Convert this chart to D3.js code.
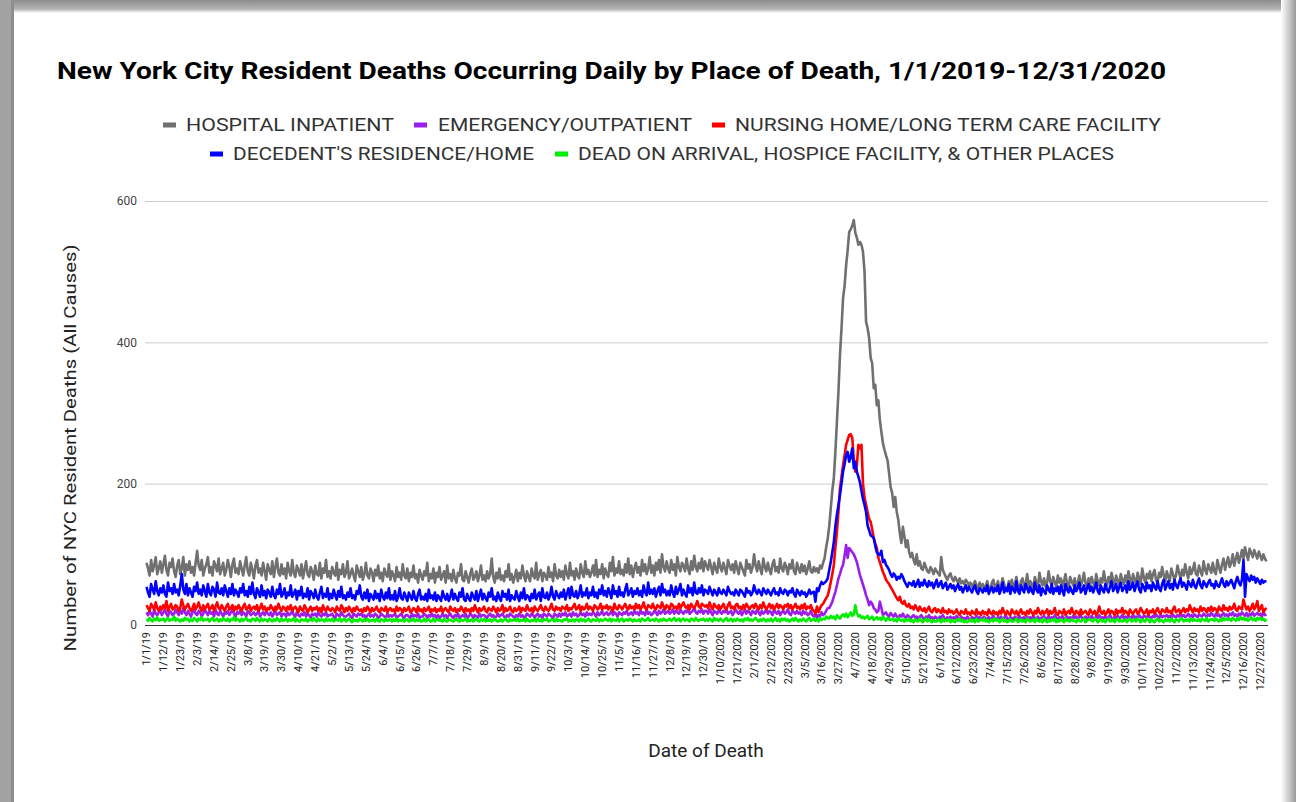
<!DOCTYPE html>
<html><head><meta charset="utf-8">
<script src="https://cdn.jsdelivr.net/npm/d3@7"></script>
<style>
html,body{margin:0;padding:0;background:#fff;}
svg{display:block;}
</style></head>
<body>
<svg id="chart" width="1296" height="802"></svg>
<script>
// ---------------- DATA ----------------
const seriesNames = ["HOSPITAL INPATIENT","EMERGENCY/OUTPATIENT","NURSING HOME/LONG TERM CARE FACILITY","DECEDENT'S RESIDENCE/HOME","DEAD ON ARRIVAL, HOSPICE FACILITY, & OTHER PLACES"];
const seriesColors = ["#707070","#9b1fe8","#ff0000","#0000ff","#00ee00"];
const yTicks = [0,200,400,600];
const tickLabels = ["1/1/19","1/12/19","1/23/19","2/3/19","2/14/19","2/25/19","3/8/19","3/19/19","3/30/19","4/10/19","4/21/19","5/2/19","5/13/19","5/24/19","6/4/19","6/15/19","6/26/19","7/7/19","7/18/19","7/29/19","8/9/19","8/20/19","8/31/19","9/11/19","9/22/19","10/3/19","10/14/19","10/25/19","11/5/19","11/16/19","11/27/19","12/8/19","12/19/19","12/30/19",
"1/10/2020","1/21/2020","2/1/2020","2/12/2020","2/23/2020","3/5/2020","3/16/2020","3/27/2020","4/7/2020","4/18/2020","4/29/2020","5/10/2020","5/21/2020","6/1/2020","6/12/2020","6/23/2020","7/4/2020","7/15/2020","7/26/2020","8/6/2020","8/17/2020","8/28/2020","9/8/2020","9/19/2020","9/30/2020","10/11/2020","10/22/2020","11/2/2020","11/13/2020","11/24/2020","12/5/2020","12/16/2020","12/27/2020"];
const tickStep = 11;

const hospital2019 = [
88,80,70,92,76,84,96,72,80,90, 74,86,98,78,70,88,82,94,76,68, 84,92,72,80,96,70,86,78,90,74,
82,70,88,105,84,78,92,70,80,86, 96,74,82,70,90,84,76,94,72,80, 88,70,78,92,82,68,86,94,74,80,
72,90,80,70,84,96,76,70,88,78, 66,84,92,74,80,70,88,76,64,86, 78,72,90,68,82,94,74,70,86,72,
80,66,88,76,70,92,74,68,84,78, 70,86,66,78,90,72,68,82,76,64, 84,72,70,88,66,80,74,92,68,76,
66,82,74,70,88,64,78,72,86,68, 74,90,66,72,80,70,62,84,76,68, 82,64,72,88,70,66,80,74,62,78,
70,84,66,74,62,80,72,68,86,64, 76,70,62,82,68,74,64,86,70,66, 80,62,74,68,84,66,72,60,78,70,
64,76,70,88,62,72,66,80,60,74, 68,82,64,70,76,60,84,66,72,62, 78,66,60,74,70,86,64,62,76,68,
60,72,80,64,68,76,62,70,84,64, 70,62,76,66,72,94,68,60,74,66, 80,64,70,62,76,68,86,64,72,60,
68,78,62,74,66,84,70,62,76,68, 62,80,70,66,88,64,72,78,62,74, 70,64,82,68,74,62,86,70,66,78,
68,76,64,84,72,66,88,70,76,64, 80,70,66,86,74,68,90,72,78,68, 74,84,70,92,68,78,72,86,66,80,
72,68,88,76,96,70,80,74,90,72, 78,70,86,74,94,72,84,68,80,88, 74,82,70,92,76,86,72,80,96,74,
84,70,88,78,92,74,100,82,76,90, 80,74,92,78,86,70,96,82,76,88, 84,76,94,80,72,90,78,98,82,76,
88,80,94,76,90];
const hospital2020 = [
84,78,92,82,72,88,80,74,94,82, 76,88,80,72,92,84,78,86,74,90, 80,72,88,82,76,70,92,80,86,74,
82,100,84,76,90,80,72,94,82,76, 88,78,72,86,92,76,82,74,94,80, 76,88,82,72,86,80,92,76,72,88,
80,74,86,76,84,72,80,90,76,74, 82,76,80,74,84,80,88,95,110,122, 140,165,190,208,245,287,330,382,420,462,
480,509,530,556,560,565,573,555,548,538, 542,538,528,500,429,420,406,378,370,335, 340,311,318,290,273,257,248,240,233,215,
195,187,167,181,160,149,130,116,139,125, 110,120,104,96,102,92,86,100,84,90, 80,78,88,82,76,74,82,78,72,80,
76,73,70,96,78,73,68,64,70,73, 66,62,68,64,60,66,59,62,58,64, 61,56,60,54,58,62,56,52,60,54,
58,50,56,62,52,48,60,64,52,56, 62,50,56,66,58,52,48,62,56,64, 52,58,68,54,50,62,66,54,58,72,
54,62,58,52,68,60,54,74,62,56, 66,54,60,76,62,56,68,60,54,70, 60,66,54,62,72,58,52,68,62,56,
66,54,60,70,56,62,74,60,54,66, 56,68,60,54,72,62,56,66,60,76, 62,56,68,60,74,64,56,70,62,58,
72,64,58,70,60,76,66,58,72,64, 60,74,66,58,80,68,60,72,66,76, 62,72,78,64,60,74,68,82,70,62,
76,68,62,80,72,64,70,84,74,66, 78,70,86,74,66,82,72,78,88,72, 70,84,76,70,90,78,72,86,80,74,
88,76,72,92,82,74,86,94,78,88, 96,82,88,100,84,94,102,88,96,106, 94,110,100,92,108,102,96,106,100,94,
104,98,92,100,94,90];

const emergency2019 = [
18,14,20,16,12,22,16,14,18,20, 14,18,22,16,12,20,18,14,16,22, 18,14,20,16,24,18,14,20,16,12,
18,22,16,14,20,18,12,16,22,18, 14,20,16,18,12,22,16,14,20,16, 12,18,16,20,14,18,22,16,12,18,
16,20,14,18,16,12,20,18,14,16, 18,14,16,20,12,16,18,14,20,16, 14,18,12,16,20,14,16,18,12,16,
16,12,18,14,16,20,14,12,18,14, 12,16,14,18,12,16,14,10,16,14, 16,12,18,14,12,16,14,18,12,14,
14,16,12,10,16,14,12,18,14,12, 12,14,16,12,10,16,14,12,16,14, 16,12,14,10,14,16,12,14,12,16,
14,10,12,16,14,12,10,16,12,14, 12,14,16,10,12,14,16,12,10,14, 14,12,10,16,12,14,12,16,10,12,
12,16,14,10,14,12,16,12,14,10, 14,10,12,16,12,14,10,14,16,12, 10,14,12,16,10,12,14,12,16,10,
12,16,14,10,14,12,10,16,12,14, 14,12,10,14,16,12,14,10,12,16, 12,14,16,12,10,14,12,16,14,12,
10,14,12,16,12,14,10,12,16,14, 12,16,14,10,14,16,12,14,10,16, 14,12,16,14,12,10,16,14,12,16,
12,16,14,18,12,14,16,12,18,14, 16,12,14,18,14,16,12,18,14,16, 14,18,16,12,18,14,16,20,14,16,
18,14,16,20,14,18,16,12,18,16, 14,18,16,20,14,16,18,14,20,16, 18,14,20,16,18,14,22,16,18,14,
16,20,18,14,20,16,18,22,16,18, 20,16,18,22,16,20,18,16,22,18, 16,20,18,22,16,18,20,24,18,16,
20,18,22,16,20];
const emergency2020 = [
20,16,22,18,14,20,18,16,22,18, 16,20,18,22,16,18,20,14,18,22, 18,16,20,14,18,22,16,20,18,14,
20,18,16,22,18,14,20,16,18,22, 16,20,18,14,22,18,16,20,14,18, 20,16,18,22,16,14,20,18,16,20,
16,18,14,20,16,18,14,16,20,14, 12,16,10,14,12,18,14,16,20,24, 24,28,33,40,47,56,66,72,80,85,
98,113,95,109,106,103,100,95,89,80, 71,64,57,50,42,36,28,33,30,24, 22,18,20,33,24,14,16,18,14,12,
17,14,12,16,12,10,14,12,16,12, 10,14,12,9,12,14,10,12,8,12, 14,10,8,12,10,14,9,11,8,12,
10,8,12,9,14,10,8,11,9,12, 8,11,9,13,10,7,12,9,10,8, 12,9,7,11,10,8,13,9,11,8,
10,12,8,9,11,7,10,13,9,8, 11,9,12,8,10,14,9,7,11,10, 8,12,10,9,13,8,10,11,7,12,
9,11,8,13,10,9,12,8,10,11, 13,8,10,12,9,11,8,14,10,9, 11,9,13,8,10,12,9,11,8,13,
10,12,9,11,14,8,10,12,9,11, 8,13,10,9,12,10,14,9,11,10, 12,9,11,14,10,8,12,10,13,9,
11,14,9,12,10,13,11,9,15,10, 12,10,14,11,9,13,12,10,14,11, 10,13,11,15,12,10,14,11,13,12,
14,11,13,10,15,12,11,14,12,16, 12,14,11,13,16,12,14,11,15,13, 11,15,13,12,16,14,11,15,13,17,
14,12,16,13,15,11,14,17,13,15, 12,16,14,18,13,15,12,16,14,18, 15,13,17,12,16,14,18,13,15,17,
14,16,12,18,14,15];

const nursing2019 = [
28,24,20,30,26,22,32,24,20,26, 22,28,24,34,20,26,30,22,24,28, 26,20,24,36,28,22,26,30,24,20,
24,30,22,26,32,24,20,28,22,26, 30,22,24,28,20,26,32,24,22,28, 24,20,26,30,22,24,28,20,26,22,
28,24,20,26,30,22,24,28,20,24, 26,22,28,20,24,30,22,26,20,24, 22,28,24,20,26,22,30,24,20,26,
24,20,26,22,28,20,24,26,22,18, 26,22,20,28,24,18,22,26,20,24, 22,26,20,24,18,28,22,20,26,22,
20,24,22,18,26,22,20,28,24,18, 24,20,26,22,18,24,20,26,22,20, 22,18,24,20,26,22,18,24,20,22,
26,20,18,24,22,20,26,18,22,24, 20,22,18,26,20,24,22,18,24,20, 22,26,18,20,24,22,18,26,20,22,
18,24,20,22,26,18,22,20,24,18, 22,20,26,18,22,24,20,18,26,22, 20,24,18,22,20,26,22,18,24,20,
22,18,24,20,28,22,18,24,20,22, 26,20,18,24,22,20,26,22,18,24, 20,22,28,18,24,20,22,26,20,18,
24,20,22,26,18,24,22,20,28,22, 20,24,18,26,22,20,24,28,22,20, 26,22,20,24,30,22,20,26,22,24,
20,26,24,22,28,20,24,22,26,30, 22,24,28,20,26,22,24,30,22,26, 24,20,28,26,22,24,30,22,26,24,
28,22,26,24,20,30,24,22,28,26, 22,26,30,24,22,28,24,26,22,30, 24,28,22,26,32,24,22,28,26,24,
30,24,22,28,26,24,32,26,22,28, 26,22,30,28,24,26,22,30,24,28, 32,26,24,28,22,30,26,24,28,34,
26,24,30,28,26];
const nursing2020 = [
28,24,32,26,22,30,26,24,28,22, 26,30,24,22,28,32,24,26,22,28, 30,24,26,22,28,24,30,26,22,26,
28,24,30,26,22,28,24,32,26,22, 26,30,24,28,22,26,30,24,28,26, 22,28,26,30,24,28,22,26,30,24,
26,22,28,24,30,22,26,24,28,22, 20,16,26,18,24,28,30,34,38,42, 50,61,72,85,110,132,160,193,210,226,
240,255,262,269,270,265,236,217,226,255, 250,255,200,180,170,160,150,146,135,123, 115,109,95,89,82,75,70,64,61,58,
54,50,46,42,38,35,40,32,30,34, 28,26,30,24,26,22,28,24,20,26, 22,20,24,18,22,26,20,18,22,24,
18,22,20,17,24,18,20,16,22,18, 20,16,18,22,17,14,20,18,16,22, 16,18,14,20,17,15,22,16,18,14,
20,16,18,14,22,17,15,20,16,18, 14,20,16,24,18,15,20,16,14,22, 18,16,20,14,18,22,16,18,14,20,
16,22,18,14,20,16,24,18,15,20, 16,18,22,14,20,16,18,24,16,14, 20,18,16,22,14,18,20,16,24,18,
15,20,18,14,22,16,18,20,16,14, 22,18,16,20,14,18,26,18,16,20, 14,18,22,16,20,18,14,22,16,20,
18,24,16,20,18,14,22,18,16,20, 22,16,18,24,20,16,18,22,14,20, 18,22,16,20,24,18,16,22,20,18,
24,18,20,16,22,26,18,20,22,16, 20,24,18,22,20,28,22,18,24,20, 22,18,26,20,24,22,18,24,20,26,
20,24,22,18,26,22,20,28,22,24, 20,26,22,24,30,22,20,26,24,22, 36,28,22,26,20,24,30,22,26,34,
20,24,28,18,22,24];

const residence2019 = [
54,46,40,58,50,44,62,48,42,52, 46,56,44,40,60,48,52,44,58,46, 50,42,56,72,50,44,58,42,52,46,
40,54,48,60,44,50,42,56,48,40, 58,46,42,54,50,40,60,46,44,52, 42,56,48,40,52,44,58,42,50,46,
40,52,46,58,42,48,40,54,44,60, 44,38,52,46,40,56,42,48,38,50, 46,40,54,42,38,50,44,58,40,44,
52,38,46,42,56,40,44,50,36,48, 42,54,38,44,40,52,36,48,44,38, 50,40,36,46,54,38,44,40,52,36,
44,38,50,42,36,48,40,54,38,42, 36,46,40,52,38,42,36,48,44,56, 40,36,46,38,50,34,44,40,36,48,
38,44,34,50,40,36,46,38,52,36, 42,36,48,34,40,52,38,36,46,40, 34,46,40,36,48,38,34,44,50,36,
40,36,44,34,50,38,42,36,46,34, 42,38,34,48,40,36,44,34,40,50, 36,44,38,34,46,40,52,36,34,44,
38,34,46,40,36,48,34,42,50,36, 44,38,34,46,40,52,36,40,34,46, 38,34,48,40,44,36,50,34,42,38,
36,48,40,34,46,38,52,36,42,40, 34,44,38,50,36,42,46,34,52,40, 38,46,36,42,54,40,36,48,42,38,
46,40,50,36,44,52,38,54,42,40, 48,38,44,56,40,46,42,52,38,46, 42,54,40,46,38,50,44,56,42,48,
40,52,46,38,56,44,48,40,54,42, 46,40,50,58,42,46,52,40,48,44, 52,42,48,40,56,46,42,60,44,50,
44,52,40,48,54,42,58,46,50,42, 48,42,56,46,40,54,44,50,58,42, 50,44,40,56,46,52,42,60,46,44,
52,46,56,42,50];
const residence2020 = [
48,44,54,48,42,50,46,42,52,46, 44,50,46,42,54,48,44,46,42,50, 46,42,50,48,44,40,52,46,48,42,
46,56,48,44,50,46,42,52,48,44, 50,46,42,48,52,44,46,42,52,46, 44,50,48,42,48,46,52,44,40,50,
46,42,48,44,46,40,44,50,44,46, 47,33,52,48,56,61,58,60,62,66, 78,89,103,117,140,156,170,184,200,217,
228,240,245,231,238,250,222,231,217,210, 202,190,178,170,160,141,134,127,125,123, 112,103,100,99,105,89,92,85,82,78,
72,68,73,70,64,68,66,72,68,62, 58,54,60,59,56,62,54,58,64,54, 60,56,64,58,54,62,56,60,52,58,
64,54,58,62,52,56,60,50,54,58, 52,56,48,54,58,50,54,46,52,56, 48,54,50,46,52,56,48,44,52,50,
46,52,48,56,44,50,54,46,52,48, 56,44,50,60,46,52,48,58,44,54, 50,46,62,48,44,56,50,46,58,52,
46,54,48,44,60,50,46,56,42,52, 48,44,56,50,46,58,44,52,48,54, 44,56,48,42,58,50,46,54,48,44,
56,48,52,60,46,50,56,44,52,58, 48,54,46,52,60,48,44,56,50,46, 58,50,46,54,62,48,52,58,46,54,
60,48,52,56,46,62,50,54,60,48, 56,62,50,46,58,54,48,60,52,56, 48,60,54,50,62,52,48,58,64,50,
56,62,52,58,50,64,56,52,60,66, 54,60,56,50,62,58,54,64,56,52, 60,66,56,52,62,58,54,60,64,56,
58,52,62,56,54,60,66,58,54,62, 56,60,64,58,52,62,68,60,56,64, 92,40,72,66,62,70,64,68,60,66,
62,58,64,60,62,62];

const other2019 = [
8,6,10,7,5,9,7,11,6,8, 7,9,5,8,10,6,8,7,12,6, 9,7,5,8,6,10,7,9,5,8,
6,10,8,5,9,7,11,6,8,7, 9,5,8,10,6,7,9,5,8,6, 10,7,6,9,5,8,7,11,6,9,
7,5,9,6,8,10,6,7,5,9, 8,6,10,7,5,9,6,8,7,5, 9,7,5,8,6,10,7,5,9,6,
7,9,5,8,6,7,10,5,8,6, 5,8,7,6,9,5,7,8,6,10, 7,5,9,6,8,7,5,9,6,8,
6,9,5,7,8,6,10,5,7,9, 5,7,9,6,4,8,6,7,5,9, 7,5,8,6,9,5,7,6,8,5,
9,6,5,8,7,5,9,6,7,8, 5,8,6,9,5,7,6,8,5,7, 8,5,7,6,9,5,8,6,7,5,
6,9,5,7,8,5,6,9,5,7, 8,6,7,5,9,6,5,8,7,6, 5,7,9,6,5,8,6,7,9,5,
7,6,8,5,7,9,6,5,8,6, 9,5,7,6,8,5,7,9,6,5, 6,8,5,7,9,6,5,8,6,7,
8,6,9,5,7,6,8,5,9,6, 5,7,6,8,5,9,6,7,5,8, 7,9,5,6,8,7,5,9,6,7,
6,5,8,7,9,5,7,6,8,5, 8,7,5,9,6,8,5,7,9,6, 5,8,7,6,9,5,8,6,7,9,
7,6,9,5,8,7,6,9,5,8, 9,5,7,8,6,9,7,5,8,6, 6,8,5,9,7,6,8,10,6,7,
8,6,9,7,5,8,6,9,7,6, 7,9,6,8,10,6,7,9,5,8, 9,6,8,7,5,9,8,6,10,7,
6,8,7,9,6];
const other2020 = [
8,6,9,7,5,10,7,8,6,9, 7,5,8,10,6,7,9,5,8,6, 9,7,6,8,5,9,7,10,6,8,
6,8,10,7,5,8,6,9,7,5, 8,6,9,5,7,10,6,8,5,9, 7,9,6,8,5,7,9,6,10,7,
5,8,6,9,7,5,8,10,6,7, 9,6,8,5,10,7,9,8,12,10, 9,13,10,12,8,14,11,9,13,15,
12,16,11,14,18,13,15,28,17,12, 14,10,12,9,11,13,8,10,12,7, 9,11,8,10,7,12,9,6,10,8,
7,9,6,8,5,10,7,6,8,5, 8,6,9,5,7,4,8,6,5,9, 6,4,7,9,5,8,6,4,7,5,
5,8,6,4,9,5,7,6,8,4, 7,5,4,8,6,9,5,7,4,6, 4,6,8,5,7,4,9,5,6,8,
6,9,5,7,4,6,8,5,9,6, 8,4,6,9,5,7,4,6,8,5, 5,7,9,4,6,8,5,7,4,9,
7,5,6,8,4,9,6,5,7,4, 9,6,4,7,5,8,6,9,4,7, 5,8,6,4,9,6,7,5,8,6,
6,4,8,6,5,7,9,4,6,8, 8,6,5,9,7,4,6,8,5,7, 4,7,9,5,6,8,4,7,9,5,
7,5,6,8,4,7,9,5,6,8, 5,9,7,4,8,6,5,9,7,4, 8,6,4,7,9,5,7,6,4,8,
6,8,5,9,6,4,8,7,5,9, 9,5,7,6,8,5,9,6,8,6, 6,8,5,9,7,6,10,5,7,8,
8,6,9,7,5,8,6,10,7,9, 7,9,6,10,8,6,9,7,11,8, 10,7,9,6,8,11,7,9,6,10,
8,10,7,9,6,8];

const seriesValues = [
  hospital2019.concat(hospital2020),
  emergency2019.concat(emergency2020),
  nursing2019.concat(nursing2020),
  residence2019.concat(residence2020),
  other2019.concat(other2020)
];

// ---------------- CHART ----------------
const W = 1296, H = 802;
const svg = d3.select("#chart");
const defs = svg.append("defs");

// frame
const gTop = defs.append("linearGradient").attr("id","gTop").attr("x1",0).attr("y1",0).attr("x2",0).attr("y2",1);
gTop.append("stop").attr("offset","0%").attr("stop-color","#8c8c8c");
gTop.append("stop").attr("offset","70%").attr("stop-color","#b4b4b4");
gTop.append("stop").attr("offset","100%").attr("stop-color","#ffffff");
const gRight = defs.append("linearGradient").attr("id","gRight").attr("x1",0).attr("y1",0).attr("x2",1).attr("y2",0);
gRight.append("stop").attr("offset","0%").attr("stop-color","#ffffff");
gRight.append("stop").attr("offset","100%").attr("stop-color","#9a9a9a");
svg.append("rect").attr("x",0).attr("y",0).attr("width",W).attr("height",H).attr("fill","#fff");
svg.append("rect").attr("x",0).attr("y",0).attr("width",W).attr("height",13).attr("fill","url(#gTop)");
svg.append("rect").attr("x",1281).attr("y",0).attr("width",15).attr("height",H).attr("fill","url(#gRight)");
svg.append("rect").attr("x",0).attr("y",0).attr("width",13).attr("height",H).attr("fill","#a3a3a3");
svg.append("rect").attr("x",11).attr("y",0).attr("width",3).attr("height",H).attr("fill","#8e8e8e");

const FONT = "Roboto, Arial, sans-serif";
const plot = {left:145, right:1268, top:201, bottom:625};
const x = d3.scaleLinear().domain([0, 730]).range([146.5, 1266.5]);
const y = d3.scaleLinear().domain([0, 600]).range([plot.bottom, plot.top]);

// title
svg.append("text").attr("x",57).attr("y",79)
  .attr("font-family",FONT).attr("font-weight","bold").attr("font-size",23)
  .attr("fill","#000").attr("textLength",1109).attr("lengthAdjust","spacingAndGlyphs")
  .text("New York City Resident Deaths Occurring Daily by Place of Death, 1/1/2019-12/31/2020");

// legend
const legendLayout = [
  {s:0,row:0,mx:163,tx:186,tw:208},
  {s:1,row:0,mx:414,tx:438,tw:254},
  {s:2,row:0,mx:712,tx:735,tw:426},
  {s:3,row:1,mx:210,tx:233,tw:301},
  {s:4,row:1,mx:555,tx:578,tw:536}
];
const rowY = [125,154];
const lg = svg.append("g");
legendLayout.forEach(l => {
  lg.append("rect").attr("x",l.mx).attr("y",rowY[l.row]-2.5).attr("width",13).attr("height",5)
    .attr("fill",seriesColors[l.s]);
  lg.append("text").attr("x",l.tx).attr("y",rowY[l.row]).attr("dy","0.36em")
    .attr("font-family",FONT).attr("font-size",18).attr("fill","#333")
    .attr("textLength",l.tw).attr("lengthAdjust","spacingAndGlyphs")
    .text(seriesNames[l.s]);
});

// gridlines + y labels
const yAxis = d3.axisLeft(y).tickValues(yTicks).tickSize(-(plot.right-plot.left)).tickPadding(8);
const ya = svg.append("g").attr("transform",`translate(${plot.left},0)`).call(yAxis);
ya.select(".domain").remove();
ya.selectAll(".tick line").attr("stroke","#cccccc").attr("stroke-width",1);
ya.selectAll(".tick text").attr("font-family",FONT).attr("font-size",12).attr("fill","#444");

// baseline
svg.append("line").attr("x1",plot.left).attr("x2",plot.right).attr("y1",y(0)+0.5).attr("y2",y(0)+0.5)
  .attr("stroke","#333").attr("stroke-width",1.2);

// lines
const line = d3.line().x((d,i)=>x(i)).y(d=>y(d));
const lines = svg.append("g");
seriesValues.forEach((vals,s) => {
  lines.append("path").datum(vals).attr("d",line).attr("fill","none")
    .attr("stroke",seriesColors[s]).attr("stroke-width",2.6).attr("stroke-linejoin","round");
});

// x tick labels
const xa = svg.append("g");
tickLabels.forEach((lab,k) => {
  const xi = x(k*tickStep);
  xa.append("text").attr("transform",`translate(${xi},632) rotate(-90)`)
    .attr("text-anchor","end").attr("dy","0.35em")
    .attr("font-family",FONT).attr("font-size",11).attr("fill","#222")
    .text(lab);
});

// axis titles
svg.append("text").attr("x",706).attr("y",757).attr("text-anchor","middle")
  .attr("font-family",FONT).attr("font-size",19).attr("fill","#222").text("Date of Death");
svg.append("text").attr("transform","translate(76,448) rotate(-90)").attr("text-anchor","middle")
  .attr("font-family",FONT).attr("font-size",17).attr("fill","#222")
  .attr("textLength",407).attr("lengthAdjust","spacingAndGlyphs")
  .text("Number of NYC Resident Deaths (All Causes)");
</script>
</body></html>
